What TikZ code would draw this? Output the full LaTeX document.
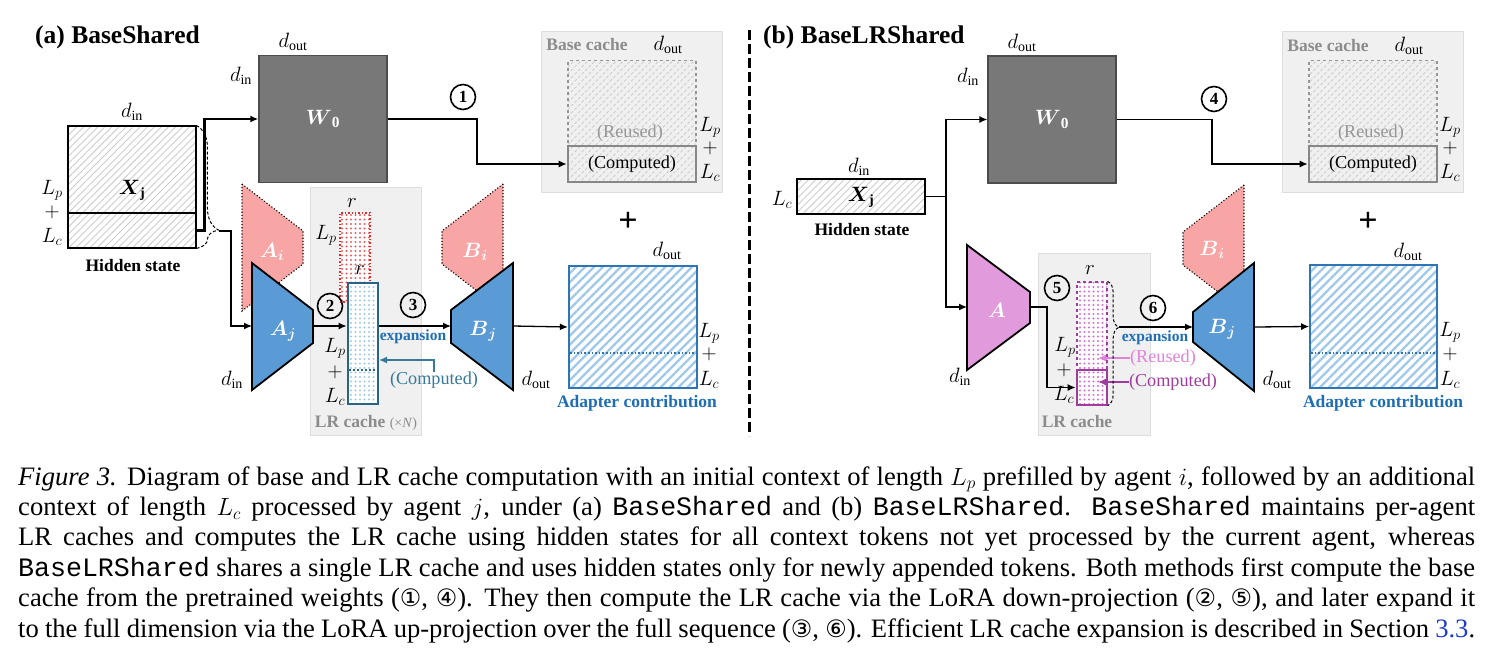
\documentclass[tikz,border=0pt]{standalone}
\usepackage{amsmath}
\usepackage{amssymb}
\usepackage{fontspec}
\setmainfont{Liberation Serif}
\setmonofont{Liberation Mono}
\newfontfamily\circledfont{DejaVu Sans}
\usetikzlibrary{
    arrows.meta,
    patterns.meta,
    positioning,
    calc,
    decorations.pathreplacing
}
\definecolor{wgray}{RGB}{120,120,120}
\definecolor{panelgray}{RGB}{240,240,240}
\definecolor{panelline}{RGB}{222,222,222}
\definecolor{labelgray}{RGB}{140,140,140}
\definecolor{reusegray}{RGB}{150,150,150}
\definecolor{compgray}{RGB}{135,135,135}
\definecolor{hatchgray}{RGB}{205,205,205}
\definecolor{loraBlue}{RGB}{91,155,213}
\definecolor{loraPink}{RGB}{248,165,165}
\definecolor{loraViolet}{RGB}{225,155,220}
\definecolor{cacheRed}{RGB}{230,40,40}
\definecolor{cacheTeal}{RGB}{40,100,135}
\definecolor{dotBlue}{RGB}{160,200,235}
\definecolor{dotViolet}{RGB}{215,110,210}
\definecolor{adaptBlue}{RGB}{46,117,182}
\definecolor{adaptHatch}{RGB}{160,200,235}
\definecolor{textBlue}{RGB}{30,110,180}
\definecolor{compTeal}{RGB}{55,120,155}
\definecolor{darkViolet}{RGB}{160,60,160}
\definecolor{lightViolet}{RGB}{225,130,220}
\definecolor{linkblue}{RGB}{30,60,200}
\newcommand{\dimfont}{\fontsize{20}{20}\selectfont}
\newcommand{\labfont}{\fontsize{17.5}{18}\selectfont\bfseries}
\newcommand{\dinlab}{$d_{\mathrm{in}}$}
\newcommand{\doutlab}{$d_{\mathrm{out}}$}
\newcommand{\circnum}[1]{{\circledfont\fontsize{24}{24}\selectfont #1}}
\tikzstyle{arrow} = [
    -{Latex[length=8pt,width=7pt]},
    line width=1.3pt
]
\tikzstyle{dimlab} = [inner sep=0pt, font=\dimfont]
\tikzstyle{boldlab} = [inner sep=0pt, font=\labfont]
\tikzstyle{paneltitle} = [
    anchor=base west,
    inner sep=0pt,
    font=\fontsize{25.5}{26}\selectfont\bfseries
]
\tikzstyle{panelbox} = [
    rectangle,
    draw=panelline,
    fill=panelgray,
    line width=0.8pt,
    inner sep=0pt
]
\tikzstyle{panellab} = [inner sep=0pt, text=labelgray, font=\labfont]
\tikzstyle{weightbox} = [
    rectangle,
    draw=black!70,
    fill=wgray,
    line width=1.3pt,
    minimum width=128pt,
    minimum height=127pt,
    inner sep=0pt,
    text=white,
    font=\fontsize{22}{22}\selectfont
]
\tikzstyle{hiddenbox} = [
    rectangle,
    draw=black,
    line width=1.3pt,
    minimum width=128pt,
    inner sep=0pt,
    pattern={Lines[angle=45,distance=5pt,line width=0.9pt]},
    pattern color=hatchgray
]
\tikzstyle{reusedbox} = [
    rectangle,
    draw=reusegray,
    dashed,
    line width=1.3pt,
    minimum width=128pt,
    minimum height=121pt,
    inner sep=0pt,
    pattern={Lines[angle=45,distance=5pt,line width=0.9pt]},
    pattern color=hatchgray
]
\tikzstyle{computedbox} = [
    rectangle,
    draw=compgray,
    line width=2.6pt,
    minimum width=128pt,
    minimum height=36pt,
    inner sep=0pt,
    font=\fontsize{18.2}{18}\selectfont
]
\tikzstyle{adapterbox} = [
    rectangle,
    draw=adaptBlue,
    line width=1.6pt,
    minimum width=128pt,
    minimum height=122pt,
    inner sep=0pt,
    pattern={Lines[angle=45,distance=6.3pt,line width=2.3pt]},
    pattern color=adaptHatch
]
\tikzstyle{stepcirc} = [
    circle,
    draw=black,
    line width=1.6pt,
    minimum size=25pt,
    inner sep=0pt,
    font=\fontsize{17}{17}\selectfont\bfseries
]
\tikzstyle{onshape} = [inner sep=0pt, text=white, font=\fontsize{22}{22}\selectfont]
\tikzstyle{explab} = [inner sep=0pt, text=textBlue, font=\fontsize{15.5}{16}\selectfont\bfseries]
\tikzstyle{smalllab} = [inner sep=0pt, font=\fontsize{18.2}{18}\selectfont]
\tikzstyle{pinkshape} = [fill=loraPink, draw=black, line width=1.1pt, dotted]
\tikzstyle{blueshape} = [fill=loraBlue, draw=black, line width=1.8pt]
\tikzstyle{violetshape} = [fill=loraViolet, draw=black, line width=1.8pt]
\tikzstyle{redcol} = [
    rectangle,
    draw=cacheRed,
    dotted,
    line width=1.4pt,
    minimum width=30pt,
    inner sep=0pt,
    preaction={fill=white},
    pattern={Dots[distance=4.5pt,radius=1.1pt]},
    pattern color=cacheRed!75
]
\tikzstyle{tealcol} = [
    rectangle,
    draw=cacheTeal,
    line width=2.8pt,
    minimum width=30pt,
    inner sep=0pt,
    preaction={fill=white},
    pattern={Dots[distance=4.5pt,radius=1.1pt]},
    pattern color=dotBlue
]
\tikzstyle{violetcol} = [
    rectangle,
    draw=darkViolet,
    dashed,
    line width=1.3pt,
    minimum width=30pt,
    inner sep=0pt,
    preaction={fill=white},
    pattern={Dots[distance=4.5pt,radius=1.2pt]},
    pattern color=dotViolet
]
\tikzstyle{violetcomp} = [
    rectangle,
    draw=darkViolet,
    line width=2.8pt,
    minimum width=30pt,
    minimum height=35pt,
    inner sep=0pt
]
\tikzstyle{dashbrace} = [decorate, dash pattern=on 3pt off 2pt, line width=1pt]

\begin{document}
\begin{tikzpicture}[x=1pt, y=-1pt]
    \useasboundingbox (0,0) rectangle (1491,656);

    % ---------------- (a) BaseShared ----------------
    \node[paneltitle] (titleA) at (35,43) {(a) BaseShared};

    % Gray panels
    \node[panelbox, minimum width=181pt, minimum height=161pt] (bcA) at (631.5,111.5) {};
    \node[panelbox, minimum width=111pt, minimum height=248pt] (lrA) at (366,311.5) {};
    \node[panellab] (bcAText) at (587,45) {Base cache};
    \node[panellab] (lrAText) at (366,423) {LR cache {\mdseries\fontsize{14}{14}\selectfont(×\textit{N})}};

    % Hidden state
    \node[hiddenbox, minimum height=122pt] (Xa) at (132,187) {};
    \node[rectangle, draw=black, line width=2.4pt, minimum width=128pt, minimum height=35pt, inner sep=0pt] (XaLow) at (132,230.5) {};
    \node[dimlab] (XaName) at (132,190) {$\boldsymbol{X}_{\mathbf{j}}$};
    \node[dimlab] (XaDin) at (132,112) {\dinlab};
    \node[dimlab] (XaLp) at (52,190) {$L_p$};
    \node[dimlab] (XaPlus) at (52,212) {$+$};
    \node[dimlab] (XaLc) at (52,237) {$L_c$};
    \node[boldlab] (XaText) at (133,266) {Hidden state};

    % Base weight
    \node[weightbox] (W0a) at (323,119) {$\boldsymbol{W}_{\mathbf{0}}$};
    \node[dimlab] (W0aDout) at (293,42) {\doutlab};
    \node[dimlab] (W0aDin) at (241,76) {\dinlab};
    \draw[arrow, line width=2.6pt] (XaLow.east) -- ++(7,0) |- (W0a.west);

    % Base cache
    \node[reusedbox] (reuseA) at (632,121) {};
    \node[computedbox] (compBaseA) at (632,164) {(Computed)};
    \node[smalllab, text=reusegray] (reuseAText) at (630,133) {(Reused)};
    \node[dimlab] (bcADout) at (668,45) {\doutlab};
    \node[dimlab] (bcALp) at (710,127) {$L_p$};
    \node[dimlab] (bcAPlus) at (710,148) {$+$};
    \node[dimlab] (bcALc) at (710,173) {$L_c$};
    \draw[arrow] (W0a.east) -- (477,119) |- (compBaseA.west);
    \node[stepcirc] (s1) at (463,97) {1};
    \node[inner sep=0pt, font=\fontsize{34}{34}\selectfont\bfseries] (plusA) at (628,222) {+};

    % Adapters of agent i and j
    \draw[dashbrace, decoration={brace, amplitude=22pt, aspect=0.85}] (Xa.north east) -- (Xa.south east);
    \coordinate (braceA) at (219,231);
    \draw[pinkshape] (242,184) -- (303,231) -- (303,264) -- (242,311) -- cycle;
    \node[onshape] (AiName) at (272,252) {$\boldsymbol{A}_{\boldsymbol{i}}$};
    \draw[blueshape] (252,263) -- (313,310) -- (313,343) -- (252,390) -- cycle;
    \coordinate (AjIn) at (252,326);
    \coordinate (AjOut) at (313,326);
    \node[onshape] (AjName) at (283,331) {$\boldsymbol{A}_{\boldsymbol{j}}$};
    \node[dimlab] (AjDin) at (232,380) {\dinlab};
    \draw[arrow] (braceA) -- (231,231) |- (AjIn);

    % LR cache
    \node[redcol, minimum height=89pt] (LpA) at (355,257.5) {};
    \node[dimlab] (LpAr) at (352,203) {$r$};
    \node[dimlab] (LpALp) at (326,235) {$L_p$};
    \node[tealcol, minimum height=121pt] (LrA) at (363,343.5) {};
    \draw[cacheTeal, dotted, line width=2pt] (349,370) -- (377,370);
    \node[dimlab] (LrAr) at (360,270) {$r$};
    \node[dimlab] (LrALp) at (335,348) {$L_p$};
    \node[dimlab] (LrAPlus) at (335,372) {$+$};
    \node[dimlab] (LrALc) at (335,397) {$L_c$};
    \draw[arrow] (AjOut) -- (AjOut -| LrA.west);
    \node[stepcirc] (s2) at (330,306) {2};
    \node[smalllab, text=compTeal] (compA) at (434,380) {(Computed)};
    \coordinate (LrAport) at (379,360);
    \draw[arrow, compTeal, line width=1.2pt] (compA.north) |- (LrAport);

    % Up-projection
    \draw[pinkshape] (503,184) -- (442,231) -- (442,264) -- (503,311) -- cycle;
    \node[onshape] (BiName) at (475,252) {$\boldsymbol{B}_{\boldsymbol{i}}$};
    \draw[blueshape] (513,263) -- (451,310) -- (451,343) -- (513,390) -- cycle;
    \coordinate (BjIn) at (451,326);
    \coordinate (BjOut) at (513,326);
    \node[onshape] (BjName) at (483,331) {$\boldsymbol{B}_{\boldsymbol{j}}$};
    \node[dimlab] (BjDout) at (536,380) {\doutlab};
    \draw[arrow] (LrA.east |- BjIn) -- (BjIn);
    \node[stepcirc] (s3) at (413,305) {3};
    \node[explab] (expA) at (413,337) {expansion};

    % Adapter contribution
    \node[adapterbox] (adA) at (633,327) {};
    \draw[adaptBlue, dotted, line width=1.6pt] (570,353) -- (696,353);
    \node[dimlab] (adADout) at (667,251) {\doutlab};
    \node[dimlab] (adALp) at (709,333) {$L_p$};
    \node[dimlab] (adAPlus) at (709,354) {$+$};
    \node[dimlab] (adALc) at (709,380) {$L_c$};
    \node[boldlab, text=textBlue] (adAText) at (637,403) {Adapter contribution};
    \draw[arrow] (BjOut) -- (adA.west);

    % Separator
    \draw[line width=3pt, dash pattern=on 10pt off 4pt] (749,30) -- (749,436);

    % ---------------- (b) BaseLRShared ----------------
    \node[paneltitle] (titleB) at (763,43) {(b) BaseLRShared};

    % Gray panels
    \node[panelbox, minimum width=181pt, minimum height=161pt] (bcB) at (1372.5,111.5) {};
    \node[panelbox, minimum width=112pt, minimum height=182pt] (lrB) at (1094,344) {};
    \node[panellab] (bcBText) at (1328,46) {Base cache};
    \node[panellab] (lrBText) at (1077,422) {LR cache};

    % Hidden state
    \node[hiddenbox, minimum height=35pt] (Xb) at (861,196.5) {};
    \node[dimlab] (XbName) at (861,197) {$\boldsymbol{X}_{\mathbf{j}}$};
    \node[dimlab] (XbDin) at (859,167) {\dinlab};
    \node[dimlab] (XbLc) at (782,200) {$L_c$};
    \node[boldlab] (XbText) at (862,230) {Hidden state};

    % Base weight
    \node[weightbox] (W0b) at (1052,119.5) {$\boldsymbol{W}_{\mathbf{0}}$};
    \node[dimlab] (W0bDout) at (1022,43) {\doutlab};
    \node[dimlab] (W0bDin) at (968,77) {\dinlab};
    \coordinate (splitB) at (946,196.5);
    \draw[arrow] (Xb.east) -- (splitB) |- (W0b.west);

    % Base cache
    \node[reusedbox] (reuseB) at (1373,121) {};
    \node[computedbox] (compBaseB) at (1373,164) {(Computed)};
    \node[smalllab, text=reusegray] (reuseBText) at (1371,133) {(Reused)};
    \node[dimlab] (bcBDout) at (1409,46) {\doutlab};
    \node[dimlab] (bcBLp) at (1450,127) {$L_p$};
    \node[dimlab] (bcBPlus) at (1450,148) {$+$};
    \node[dimlab] (bcBLc) at (1450,173) {$L_c$};
    \draw[arrow] (W0b.east) -- (1212,119.5) |- (compBaseB.west);
    \node[stepcirc] (s4) at (1214,99) {4};
    \node[inner sep=0pt, font=\fontsize{34}{34}\selectfont\bfseries] (plusB) at (1368,222) {+};

    % Shared down-projection
    \draw[violetshape] (967,245) -- (1030,292) -- (1030,323) -- (967,370) -- cycle;
    \coordinate (AIn) at (967,307);
    \coordinate (AOut) at (1030,307);
    \node[onshape] (AName) at (997,310) {$\boldsymbol{A}$};
    \node[dimlab] (ADin) at (960,377) {\dinlab};
    \draw[arrow] (splitB) |- (AIn);

    % Shared LR cache
    \node[violetcol, minimum height=123pt] (LrB) at (1092,343.5) {};
    \node[violetcomp] (compB) at (1092,387.5) {};
    \node[dimlab] (LrBr) at (1090,270) {$r$};
    \node[dimlab] (LrBLp) at (1065,347) {$L_p$};
    \node[dimlab] (LrBPlus) at (1064,370) {$+$};
    \node[dimlab] (LrBLc) at (1064,395) {$L_c$};
    \draw[arrow] (AOut) -- (1047,307) |- (compB.west);
    \node[stepcirc] (s5) at (1057,288) {5};
    \node[smalllab, text=lightViolet] (reuseBLR) at (1163,358) {(Reused)};
    \coordinate (reusePort) at (1098,358);
    \draw[arrow, lightViolet, line width=1.2pt] (reuseBLR.west) -- (reusePort);
    \node[smalllab, text=darkViolet] (compBLR) at (1173,382) {(Computed)};
    \coordinate (compPort) at (1098,382);
    \draw[arrow, darkViolet, line width=1.2pt] (compBLR.west) -- (compPort);
    \draw[dashbrace, decoration={brace, amplitude=11pt, aspect=0.37}] (LrB.north east) -- (LrB.south east);
    \coordinate (braceB) at (1119,327);

    % Up-projection
    \draw[pinkshape] (1244,185) -- (1183,232) -- (1183,265) -- (1244,312) -- cycle;
    \node[onshape] (BibName) at (1212,250) {$\boldsymbol{B}_{\boldsymbol{i}}$};
    \draw[blueshape] (1254,263) -- (1193,312) -- (1193,342) -- (1254,391) -- cycle;
    \coordinate (BjbIn) at (1193,327);
    \coordinate (BjbOut) at (1254,327);
    \node[onshape] (BjbName) at (1222,329) {$\boldsymbol{B}_{\boldsymbol{j}}$};
    \node[dimlab] (BjbDout) at (1277,380) {\doutlab};
    \draw[arrow] (braceB) -- (BjbIn);
    \node[stepcirc] (s6) at (1153,308) {6};
    \node[explab] (expB) at (1155,338) {expansion};

    % Adapter contribution
    \node[adapterbox, minimum width=127pt, minimum height=123pt] (adB) at (1373.5,326.5) {};
    \draw[adaptBlue, dotted, line width=1.6pt] (1311,353) -- (1436,353);
    \node[dimlab] (adBDout) at (1408,252) {\doutlab};
    \node[dimlab] (adBLp) at (1450,332) {$L_p$};
    \node[dimlab] (adBPlus) at (1450,354) {$+$};
    \node[dimlab] (adBLc) at (1450,380) {$L_c$};
    \node[boldlab, text=textBlue] (adBText) at (1383,403) {Adapter contribution};
    \draw[arrow] (BjbOut) -- (adB.west);

    % Caption
    \node[anchor=base west, inner sep=0pt, align=left, font=\fontsize{26.6}{30.4}\selectfont] (figCaption) at (18,637) {%
        \makebox[1457pt][s]{\textit{Figure 3.} Diagram of base and LR cache computation with an initial context of length $L_p$ prefilled by agent $i$, followed by an additional}\\
        \makebox[1457pt][s]{context of length $L_c$ processed by agent $j$, under (a) \texttt{BaseShared} and (b) \texttt{BaseLRShared}. \texttt{BaseShared} maintains per-agent}\\
        \makebox[1457pt][s]{LR caches and computes the LR cache using hidden states for all context tokens not yet processed by the current agent, whereas}\\
        \makebox[1457pt][s]{\texttt{BaseLRShared} shares a single LR cache and uses hidden states only for newly appended tokens. Both methods first compute the base}\\
        \makebox[1457pt][s]{cache from the pretrained weights (\circnum{①}, \circnum{④}). They then compute the LR cache via the LoRA down-projection (\circnum{②}, \circnum{⑤}), and later expand it}\\
        \makebox[1457pt][s]{to the full dimension via the LoRA up-projection over the full sequence (\circnum{③}, \circnum{⑥}). Efficient LR cache expansion is described in Section \textcolor{linkblue}{3.3}.}};
\end{tikzpicture}
\end{document}
